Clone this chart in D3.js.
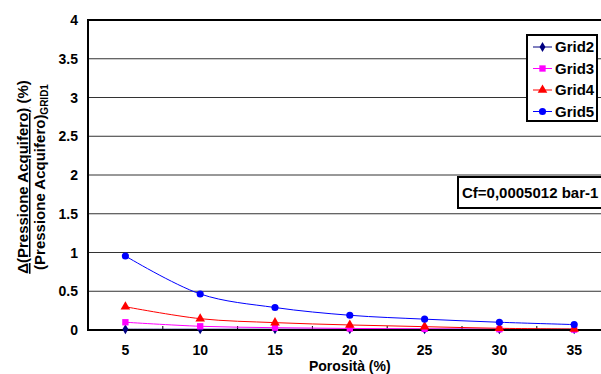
<!DOCTYPE html>
<html><head><meta charset="utf-8">
<script src="https://cdn.jsdelivr.net/npm/d3@7"></script>
<style>
body{margin:0;background:#fff;}
text{font-family:"Liberation Sans",Arial,sans-serif;font-weight:bold;fill:#000;}
</style></head>
<body><svg id="c" width="601" height="374"></svg>
<script>
const categories = ["5","10","15","20","25","30","35"];
const yTicks = [0,0.5,1,1.5,2,2.5,3,3.5,4];
const grid2 = [0.01,0.01,0.01,0.01,0.01,0.01,0.01];
const grid3 = [0.10,0.048,0.03,0.02,0.015,0.01,0.005];
const grid4 = [0.30,0.146,0.095,0.065,0.043,0.022,0.013];
const grid5 = [0.955,0.465,0.29,0.19,0.14,0.10,0.07];
const seriesNames = ["Grid2","Grid3","Grid4","Grid5"];
const seriesColors = ["#000080","#FF00FF","#FF0000","#0000FF"];
const seriesSymbols = [d3.symbolDiamond,d3.symbolSquare,d3.symbolTriangle,d3.symbolCircle];
const seriesData = [grid2,grid3,grid4,grid5];

const svg = d3.select("#c");
const L=88, T=20, B=330, step=74.8, R=L+step*categories.length;
const x = d3.scalePoint().domain(categories).range([L,R]).padding(0.5);
const y = d3.scaleLinear().domain([0,4]).range([B,T]);

// gridlines
svg.append("g").selectAll("line").data(yTicks.filter(d=>d>0&&d<4)).join("line")
  .attr("x1",L).attr("x2",R).attr("y1",d=>y(d)).attr("y2",d=>y(d))
  .attr("stroke","#333").attr("stroke-width",1);

// plot border
svg.append("line").attr("x1",L).attr("x2",R).attr("y1",T).attr("y2",T).attr("stroke","#000").attr("stroke-width",2);
svg.append("line").attr("x1",L).attr("x2",L).attr("y1",T-1).attr("y2",B+1).attr("stroke","#000").attr("stroke-width",2);

// y axis labels
svg.append("g").selectAll("text").data(yTicks).join("text")
  .attr("x",78).attr("y",d=>y(d)+5).attr("text-anchor","end")
  .style("font-size","14px").text(d=>d);

// x tick marks
const bounds = d3.range(1,categories.length+1).map(i=>L+i*step);
svg.append("g").selectAll("line").data(bounds).join("line")
  .attr("x1",d=>d).attr("x2",d=>d).attr("y1",B-4).attr("y2",B)
  .attr("stroke","#000").attr("stroke-width",1);

// x labels
svg.append("g").selectAll("text").data(categories).join("text")
  .attr("x",d=>x(d)).attr("y",355).attr("text-anchor","middle")
  .style("font-size","14px").text(d=>d);

svg.append("text").attr("x",(L+R)/2).attr("y",371).attr("text-anchor","middle")
  .style("font-size","14px").text("Porosità (%)");

// y title
const yt = svg.append("g").attr("transform","translate(28,177) rotate(-90)");
const t1 = yt.append("text").attr("text-anchor","middle").style("font-size","15px");
t1.append("tspan").style("text-decoration","underline").text("Δ(Pressione Acquifero)");
t1.append("tspan").text(" (%)");
const t2 = yt.append("text").attr("y",17).attr("text-anchor","middle").style("font-size","15px");
t2.append("tspan").text("(Pressione Acquifero)");
t2.append("tspan").attr("dy",3).style("font-size","10px").text("GRID1");

// series
const line = d3.line().x((d,i)=>x(categories[i])).y(d=>y(d)).curve(d3.curveCatmullRom.alpha(0.5));
seriesData.forEach((data,si)=>{
  svg.append("path").datum(data).attr("d",line).attr("fill","none")
    .attr("stroke",seriesColors[si]).attr("stroke-width",1);
});
// x axis line
svg.append("line").attr("x1",L-1).attr("x2",R).attr("y1",B).attr("y2",B).attr("stroke","#000").attr("stroke-width",2);
seriesData.forEach((data,si)=>{
  svg.append("g").selectAll("path").data(data).join("path")
    .attr("transform",(d,i)=>`translate(${x(categories[i])},${y(d)})`)
    .attr("d",d3.symbol().type(seriesSymbols[si]).size(si==0?30:40))
    .attr("fill",seriesColors[si]);
});

// legend
const lg = svg.append("g");
lg.append("rect").attr("x",527).attr("y",35).attr("width",70).attr("height",86)
  .attr("fill","#fff").attr("stroke","#000").attr("stroke-width",2);
seriesNames.forEach((n,i)=>{
  const yy = 47+i*21.5;
  lg.append("line").attr("x1",533).attr("x2",552).attr("y1",yy).attr("y2",yy).attr("stroke",seriesColors[i]).attr("stroke-width",1);
  lg.append("path").attr("transform",`translate(542.5,${yy})`)
    .attr("d",d3.symbol().type(seriesSymbols[i]).size(i==0?30:40)).attr("fill",seriesColors[i]);
  lg.append("text").attr("x",555).attr("y",yy+5).style("font-size","15px").text(n);
});

// Cf box
svg.append("rect").attr("x",458).attr("y",177).attr("width",160).attr("height",31)
  .attr("fill","#fff").attr("stroke","#000").attr("stroke-width",2);
svg.append("text").attr("x",462).attr("y",198).style("font-size","15px").text("Cf=0,0005012 bar-1");
</script></body></html>
